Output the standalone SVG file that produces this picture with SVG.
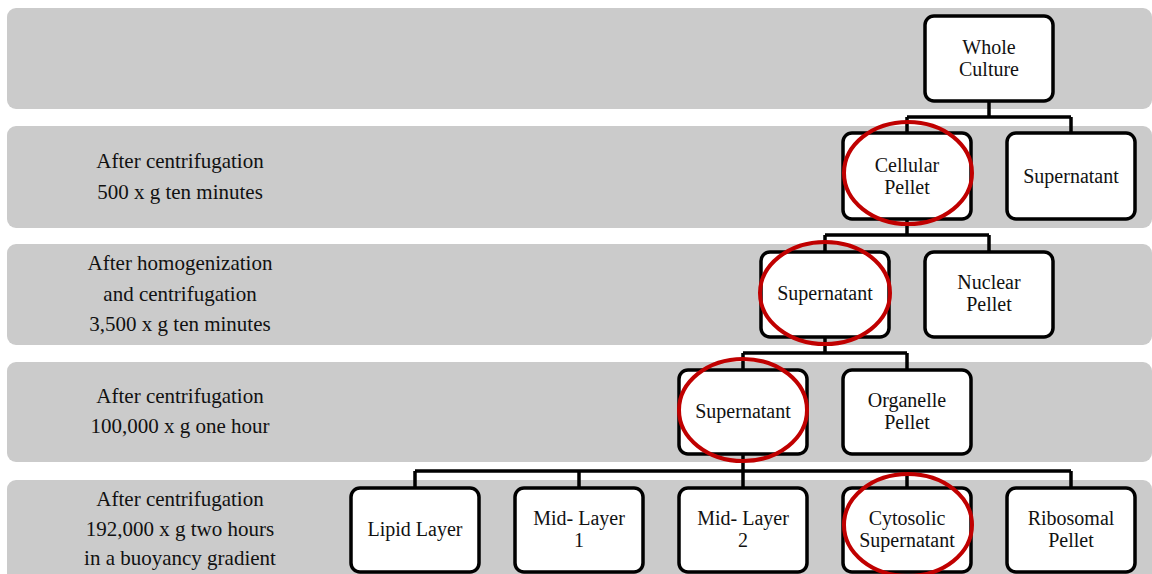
<svg xmlns="http://www.w3.org/2000/svg" width="1152" height="574" viewBox="0 0 1152 574" font-family="Liberation Serif, Times New Roman, Times, DejaVu Serif, Noto Serif, serif">
<style>
.band{fill:#cbcbcb;}
.node rect{fill:#fff;stroke:#000;stroke-width:3.5;}
text{font-family:Liberation Serif, Times New Roman, Times, DejaVu Serif, Noto Serif, serif;font-size:21px;fill:#111;text-anchor:middle;}
.node text{font-size:20px;}
.conn{fill:none;stroke:#000;stroke-width:3.5;}
.hl{fill:none;stroke:#c00000;stroke-width:4;}
</style>
<g id="bands">
<rect class="band" x="7" y="8" width="1145" height="101" rx="9"/>
<rect class="band" x="7" y="126" width="1145" height="102" rx="9"/>
<rect class="band" x="7" y="244" width="1145" height="101" rx="9"/>
<rect class="band" x="7" y="362" width="1145" height="100" rx="9"/>
<rect class="band" x="7" y="480" width="1145" height="110" rx="9"/>
</g>
<g id="stage-labels">
<text x="180" y="168">After centrifugation</text>
<text x="180" y="199">500 x g ten minutes</text>
<text x="180" y="270">After homogenization</text>
<text x="180" y="301">and centrifugation</text>
<text x="180" y="331">3,500 x g ten minutes</text>
<text x="180" y="403">After centrifugation</text>
<text x="180" y="433">100,000 x g one hour</text>
<text x="180" y="506">After centrifugation</text>
<text x="180" y="536">192,000 x g two hours</text>
<text x="180" y="565">in a buoyancy gradient</text>
</g>
<g id="connectors">
<path class="conn" d="M989 101 V117 M907 117 H1071 M907 117 V133 M1071 117 V133"/>
<path class="conn" d="M907 219 V235 M825 235 H989 M825 235 V252 M989 235 V252"/>
<path class="conn" d="M825 337 V353 M743 353 H907 M743 353 V370 M907 353 V370"/>
<path class="conn" d="M743 454 V471 M415 471 H1071 M415 471 V488 M579 471 V488 M743 471 V488 M907 471 V488 M1071 471 V488"/>
</g>
<g id="whole-culture" class="node"><rect x="925" y="16" width="128" height="85" rx="9"/><text x="989" y="54">Whole</text><text x="989" y="76">Culture</text></g>
<g id="cellular-pellet" class="node"><rect x="843" y="133" width="128" height="86" rx="9"/><text x="907" y="172">Cellular</text><text x="907" y="194">Pellet</text></g>
<g id="supernatant-1" class="node"><rect x="1007" y="133" width="128" height="86" rx="9"/><text x="1071" y="183">Supernatant</text></g>
<g id="supernatant-2" class="node"><rect x="761" y="252" width="128" height="85" rx="9"/><text x="825" y="300">Supernatant</text></g>
<g id="nuclear-pellet" class="node"><rect x="925" y="252" width="128" height="85" rx="9"/><text x="989" y="289">Nuclear</text><text x="989" y="311">Pellet</text></g>
<g id="supernatant-3" class="node"><rect x="679" y="370" width="128" height="84" rx="9"/><text x="743" y="418">Supernatant</text></g>
<g id="organelle-pellet" class="node"><rect x="843" y="370" width="128" height="84" rx="9"/><text x="907" y="407">Organelle</text><text x="907" y="429">Pellet</text></g>
<g id="lipid-layer" class="node"><rect x="351" y="488" width="128" height="84" rx="9"/><text x="415" y="536">Lipid Layer</text></g>
<g id="mid-layer-1" class="node"><rect x="515" y="488" width="128" height="84" rx="9"/><text x="579" y="525">Mid- Layer</text><text x="579" y="547">1</text></g>
<g id="mid-layer-2" class="node"><rect x="679" y="488" width="128" height="84" rx="9"/><text x="743" y="525">Mid- Layer</text><text x="743" y="547">2</text></g>
<g id="cytosolic-supernatant" class="node"><rect x="843" y="488" width="128" height="84" rx="9"/><text x="907" y="525">Cytosolic</text><text x="907" y="547">Supernatant</text></g>
<g id="ribosomal-pellet" class="node"><rect x="1007" y="488" width="128" height="84" rx="9"/><text x="1071" y="525">Ribosomal</text><text x="1071" y="547">Pellet</text></g>
<g id="highlights">
<ellipse class="hl" cx="908" cy="173" rx="64" ry="51"/>
<ellipse class="hl" cx="825" cy="293" rx="65" ry="51"/>
<ellipse class="hl" cx="743" cy="410" rx="64" ry="51"/>
<ellipse class="hl" cx="908" cy="525" rx="64" ry="51"/>
</g>
</svg>
